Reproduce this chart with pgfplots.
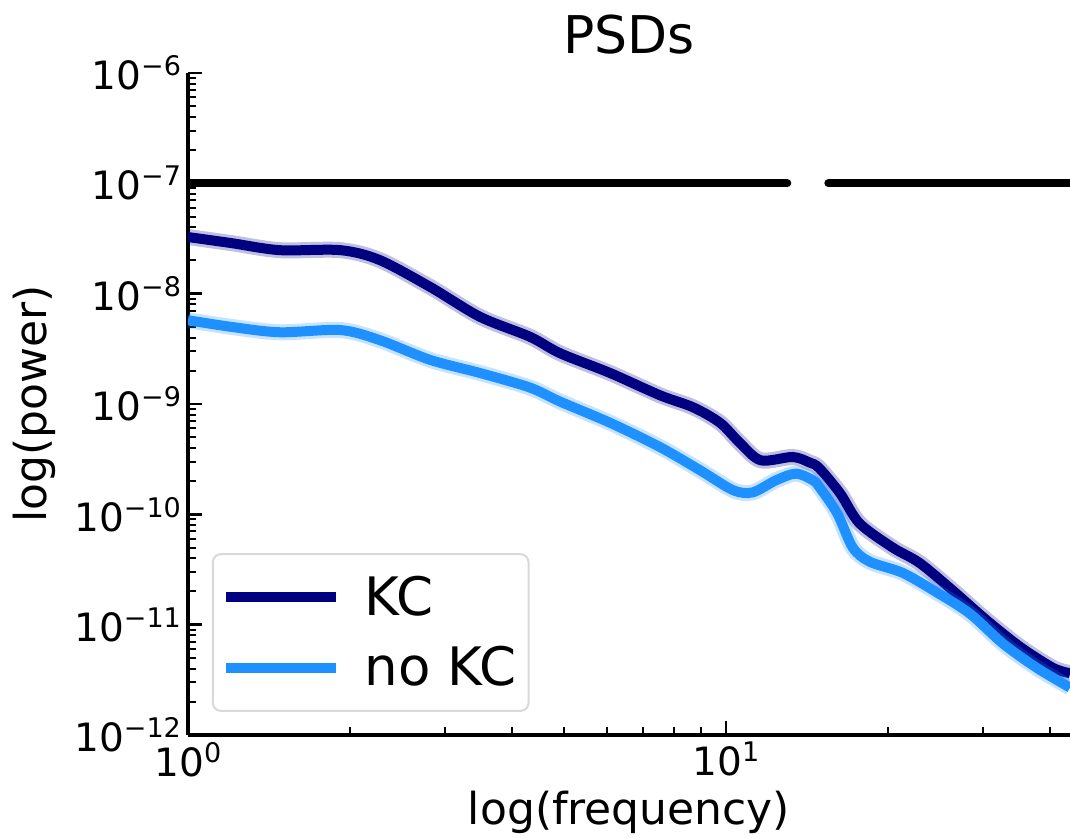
\documentclass[border=0pt]{standalone}
\usepackage{fontspec}
\setmainfont{DejaVu Sans}
\usepackage{pgfplots}
\pgfplotsset{compat=1.18}
\definecolor{kc}{RGB}{0,0,128}
\definecolor{nokc}{RGB}{30,144,255}
\newcommand{\tl}[1]{10\raisebox{7pt}{\fontsize{13.5}{13.5}\selectfont #1}}
\pgfplotstableread{
f y
1.00 3.26e-8
1.20 2.88e-8
1.48 2.48e-8
1.92 2.48e-8
2.27 2.02e-8
2.82 1.15e-8
3.49 6.17e-9
4.32 4.07e-9
4.92 2.88e-9
6.09 1.91e-9
7.54 1.20e-9
8.69 9.33e-10
9.75 6.76e-10
10.6 4.47e-10
11.6 3.09e-10
13.3 3.31e-10
14.3 2.95e-10
14.9 2.63e-10
16.3 1.55e-10
17.7 8.32e-11
20.4 5.01e-11
22.9 3.63e-11
26.4 2.04e-11
30.5 1.10e-11
35.2 6.31e-12
40.5 4.07e-12
43.6 3.63e-12
}\kcdata
\pgfplotstableread{
f y
1.00 5.75e-9
1.20 5.01e-9
1.48 4.47e-9
1.92 4.68e-9
2.27 3.80e-9
2.82 2.51e-9
3.49 1.91e-9
4.32 1.41e-9
4.92 1.05e-9
6.09 6.76e-10
7.54 4.07e-10
8.95 2.51e-10
10.3 1.66e-10
11.2 1.58e-10
12.4 2.04e-10
13.5 2.34e-10
14.5 2.04e-10
14.9 1.78e-10
16.1 1.02e-10
17.2 5.01e-11
18.5 3.72e-11
21.3 2.95e-11
24.7 1.95e-11
28.4 1.26e-11
32.7 6.76e-12
37.8 4.07e-12
43.6 2.69e-12
}\nokcdata
\begin{document}
\begin{tikzpicture}
\begin{axis}[
  width=441pt, height=331pt, scale only axis,
  xmode=log, ymode=log,
  xmin=1, xmax=43.6, ymin=1e-12, ymax=1e-6,
  axis x line*=bottom, axis y line*=left,
  axis line style={line width=1.6pt, -},
  tick align=inside,
  major tick length=7pt, minor tick length=4pt,
  tick style={black, line width=1.2pt},
  minor tick style={black, line width=1pt},
  xtick={1,10}, xticklabels={\tl{0},\tl{1}},
  minor xtick={2,3,4,5,6,7,8,9,20,30,40},
  ytick={1e-12,1e-11,1e-10,1e-9,1e-8,1e-7,1e-6},
  yticklabels={\tl{−12},\tl{−11},\tl{−10},\tl{−9},\tl{−8},\tl{−7},\tl{−6}},
  minor ytick={2e-12,3e-12,4e-12,5e-12,6e-12,7e-12,8e-12,9e-12,
               2e-11,3e-11,4e-11,5e-11,6e-11,7e-11,8e-11,9e-11,
               2e-10,3e-10,4e-10,5e-10,6e-10,7e-10,8e-10,9e-10,
               2e-9,3e-9,4e-9,5e-9,6e-9,7e-9,8e-9,9e-9,
               2e-8,3e-8,4e-8,5e-8,6e-8,7e-8,8e-8,9e-8,
               2e-7,3e-7,4e-7,5e-7,6e-7,7e-7,8e-7,9e-7},
  ticklabel style={font=\fontsize{19.5}{22}\selectfont},
  xlabel={log(frequency)}, ylabel={log(power)},
  label style={font=\fontsize{22}{26}\selectfont},
  xlabel style={yshift=-0.5pt},
  ylabel style={yshift=2.5pt},
  title={PSDs},
  title style={font=\fontsize{26}{30}\selectfont},
  legend style={at={(rel axis cs:0.027,0.035)}, anchor=south west,
    draw=black!15, rounded corners=4pt, line width=1pt,
    font=\fontsize{26.5}{30}\selectfont, row sep=10pt, column sep=10pt,
    inner xsep=4pt, inner ysep=9pt},
  legend cell align=left,
  legend image code/.code={\draw[#1, line width=5pt] (0pt,0pt) -- (55pt,0pt);},
]
\addplot[black, line width=4pt, line cap=round, forget plot] coordinates {(1,1e-7) (13.0,1e-7)};
\addplot[black, line width=4pt, line cap=round, forget plot] coordinates {(15.5,1e-7) (43.6,1e-7)};
\addplot[kc, opacity=0.25, line width=8pt, smooth, forget plot] table[x=f,y=y] {\kcdata};
\addplot[kc, line width=5pt, smooth] table[x=f,y=y] {\kcdata};
\addlegendentry{KC}
\addplot[nokc, opacity=0.25, line width=8pt, smooth, forget plot] table[x=f,y=y] {\nokcdata};
\addplot[nokc, line width=5pt, smooth] table[x=f,y=y] {\nokcdata};
\addlegendentry{no KC}
\end{axis}
\pgfresetboundingbox
\path (current axis.south west) ++(-94pt,-51.5pt) coordinate (bbA);
\path (current axis.north east) ++(0pt,36.5pt) coordinate (bbB);
\useasboundingbox (bbA) rectangle (bbB);
\end{tikzpicture}
\end{document}
